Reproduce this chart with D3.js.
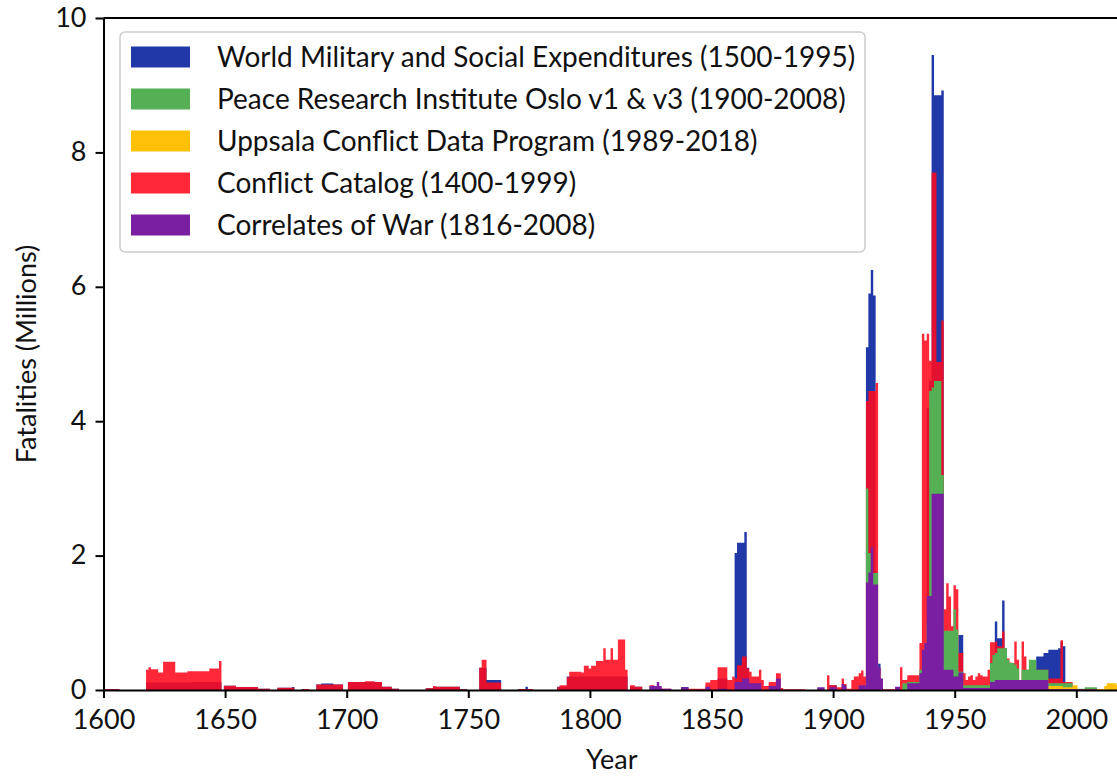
<!DOCTYPE html>
<html>
<head>
<meta charset="utf-8">
<script src="https://cdn.jsdelivr.net/npm/d3@7"></script>
<style>
  body { margin: 0; background: #fff; }
  text { font-family: Lato, "Open Sans", sans-serif; fill: #111; }
</style>
</head>
<body>
<svg id="chart" width="1117" height="776"></svg>
<script>
// [firstYear, lastYear, fatalities in millions]
const wmse = [
  [1601,1606,0.01],[1618,1636,0.11],[1637,1648,0.12],
  [1650,1654,0.065],[1655,1663,0.045],[1664,1668,0.02],[1672,1677,0.035],[1678,1678,0.045],
  [1682,1684,0.015],[1688,1689,0.08],[1690,1694,0.095],[1695,1698,0.08],
  [1701,1714,0.12],[1715,1718,0.05],[1719,1721,0.02],[1733,1735,0.025],[1736,1746,0.05],[1747,1749,0.01],
  [1755,1757,0.33],[1758,1763,0.15],[1771,1773,0.015],[1774,1774,0.05],[1775,1776,0.015],
  [1787,1790,0.05],[1791,1815,0.2],[1817,1821,0.05],[1838,1840,0.045],[1853,1856,0.17],
  [1860,1860,2.04],[1861,1863,2.19],[1864,1864,2.35],[1865,1865,0.33],[1899,1901,0.07],
  [1914,1914,5.1],[1915,1915,5.9],[1916,1916,6.25],[1917,1917,5.87],[1919,1919,0.39],
  [1939,1939,4.2],[1940,1940,4.6],[1941,1941,9.45],[1942,1944,8.85],[1945,1945,8.92],
  [1952,1953,0.82],[1967,1967,1.02],[1968,1969,0.77],[1970,1970,1.33],
  [1984,1986,0.5],[1987,1988,0.55],[1989,1992,0.6],[1993,1993,0.62],[1994,1994,0.72],[1995,1995,0.65]
];

const prio = [
  [1914,1914,3.0],[1915,1915,2.04],[1916,1918,1.74],
  [1929,1930,0.1],[1931,1935,0.12],[1936,1937,0.3],[1938,1938,0.5],[1939,1939,1.0],
  [1940,1940,4.45],[1941,1941,4.5],[1942,1944,4.6],[1945,1945,3.2],
  [1946,1949,0.88],[1950,1950,1.2],[1951,1951,0.9],[1952,1953,0.27],[1954,1964,0.07],
  [1965,1965,0.4],[1966,1966,0.52],[1967,1967,0.55],[1968,1971,0.62],[1972,1972,0.45],
  [1973,1974,0.4],[1975,1975,0.38],[1976,1976,0.32],[1977,1977,0.05],[1978,1980,0.3],
  [1981,1983,0.45],[1984,1988,0.3],[1989,1998,0.1],[1999,2003,0.02],[2004,2008,0.04]
];

const ucdp = [
  [1989,1994,0.06],[1995,1998,0.04],[1999,2000,0.07],[2001,2011,0.015],
  [2012,2012,0.06],[2013,2016,0.1],[2017,2018,0.07]
];

const cc = [
  [1601,1606,0.01],
  [1618,1618,0.30],[1619,1619,0.34],[1620,1622,0.31],[1623,1624,0.26],[1625,1629,0.42],
  [1630,1634,0.26],[1635,1643,0.28],[1644,1647,0.32],[1648,1648,0.43],
  [1650,1654,0.065],[1655,1663,0.045],[1664,1668,0.02],[1672,1678,0.035],[1682,1684,0.015],[1688,1698,0.08],
  [1701,1707,0.12],[1708,1711,0.13],[1712,1714,0.12],[1715,1718,0.05],[1719,1721,0.02],
  [1733,1735,0.025],[1736,1736,0.06],[1737,1746,0.05],[1747,1749,0.01],
  [1755,1755,0.33],[1756,1757,0.45],[1758,1763,0.11],[1771,1776,0.015],
  [1787,1787,0.04],[1788,1790,0.07],[1791,1791,0.19],[1792,1796,0.27],[1797,1797,0.26],
  [1798,1799,0.36],[1800,1800,0.32],[1801,1802,0.36],[1803,1805,0.43],[1806,1806,0.62],
  [1807,1808,0.45],[1809,1809,0.62],[1810,1811,0.45],[1812,1814,0.75],[1815,1815,0.3],
  [1817,1818,0.07],[1819,1821,0.05],[1825,1826,0.07],[1827,1829,0.04],[1830,1833,0.02],
  [1838,1840,0.03],[1841,1847,0.02],[1848,1849,0.11],[1850,1852,0.15],[1853,1856,0.34],
  [1857,1858,0.15],[1859,1859,0.2],[1860,1860,0.17],[1861,1862,0.37],[1863,1864,0.5],
  [1865,1865,0.32],[1866,1866,0.27],[1867,1869,0.2],[1870,1870,0.3],[1871,1871,0.15],
  [1872,1873,0.06],[1874,1876,0.12],[1877,1878,0.25],[1879,1879,0.03],[1880,1888,0.01],
  [1894,1896,0.02],[1898,1898,0.22],[1899,1901,0.07],[1902,1903,0.04],[1904,1904,0.17],
  [1905,1905,0.09],[1906,1907,0.02],[1908,1908,0.15],[1909,1910,0.2],[1911,1911,0.25],
  [1912,1912,0.29],[1913,1913,0.2],
  [1914,1914,4.3],[1915,1917,4.45],[1918,1918,4.57],[1919,1919,0.33],[1920,1920,0.15],
  [1921,1925,0.01],[1926,1927,0.04],[1928,1928,0.34],[1929,1930,0.15],[1931,1935,0.22],[1936,1936,0.7],
  [1937,1937,5.3],[1938,1938,5.2],[1939,1939,5.3],[1940,1940,4.9],[1941,1942,7.7],
  [1943,1944,4.88],[1945,1945,5.5],
  [1946,1946,1.2],[1947,1947,1.59],[1948,1948,1.39],[1949,1949,0.95],[1950,1950,1.56],
  [1951,1951,1.5],[1952,1953,0.55],
  [1954,1954,0.25],[1955,1955,0.15],[1956,1956,0.2],[1957,1957,0.22],[1958,1958,0.15],
  [1959,1959,0.2],[1960,1960,0.25],[1961,1961,0.22],[1962,1963,0.2],[1964,1964,0.3],
  [1965,1966,0.71],[1967,1967,0.72],[1968,1969,0.65],[1970,1970,0.87],[1971,1971,0.62],
  [1972,1972,0.47],[1973,1973,0.41],[1974,1974,0.4],[1975,1975,0.72],[1976,1976,0.45],
  [1977,1977,0.1],[1978,1978,0.72],[1979,1979,0.5],[1980,1988,0.3],[1989,1993,0.17],
  [1994,1994,0.74],[1995,1998,0.12],[1999,1999,0.05]
];

const cow = [
  [1825,1827,0.06],[1828,1828,0.12],[1829,1829,0.06],[1830,1833,0.02],[1838,1840,0.04],
  [1848,1849,0.05],[1853,1856,0.02],[1860,1862,0.12],[1863,1865,0.17],[1866,1870,0.1],
  [1874,1876,0.06],[1877,1878,0.17],[1894,1896,0.04],[1899,1901,0.04],[1904,1904,0.09],
  [1905,1905,0.07],[1911,1913,0.07],
  [1914,1914,1.6],[1915,1915,1.75],[1916,1916,2.12],[1917,1918,1.57],[1919,1919,0.33],
  [1920,1920,0.17],[1926,1927,0.05],[1931,1935,0.1],[1936,1936,0.25],[1937,1937,0.6],
  [1938,1938,0.7],[1939,1940,1.4],[1941,1945,2.92],
  [1946,1949,0.3],[1950,1951,0.2],[1952,1953,0.26],[1954,1964,0.03],[1965,1966,0.12],
  [1967,1988,0.15],[1989,2008,0.01]
];

const names = {
  wmse: "World Military and Social Expenditures (1500-1995)",
  prio: "Peace Research Institute Oslo v1 & v3 (1900-2008)",
  ucdp: "Uppsala Conflict Data Program (1989-2018)",
  cc:   "Conflict Catalog (1400-1999)",
  cow:  "Correlates of War (1816-2008)"
};

const yTicks = [0, 2, 4, 6, 8, 10];
const xTicks = [1600, 1650, 1700, 1750, 1800, 1850, 1900, 1950, 2000];

// drawn in this order, red sits over blue with a little transparency
const layers = [
  {key: "wmse", data: wmse, color: "#2038a8", opacity: 1},
  {key: "cc",   data: cc,   color: "#ff0a1e", opacity: 0.88},
  {key: "prio", data: prio, color: "#55b055", opacity: 1},
  {key: "ucdp", data: ucdp, color: "#ffc107", opacity: 1},
  {key: "cow",  data: cow,  color: "#7b1fa2", opacity: 1}
];
const legendKeys = ["wmse", "prio", "ucdp", "cc", "cow"];

const svg = d3.select("#chart");
const margin = {left: 103.5, top: 18, bottom: 690};
const fontSize = 27;

const x = d3.scaleLinear().domain([1600, 2018]).range([margin.left, margin.left + 418 * 2.432]);
const y = d3.scaleLinear().domain([0, 10]).range([margin.bottom, margin.top]);

const plot = svg.append("g");

layers.forEach(l => {
  const p = d3.path();
  l.data.forEach(([a, b, v]) => {
    const x0 = x(a - 0.5), x1 = x(b + 0.5);
    p.rect(x0, y(v), x1 - x0, y(0) - y(v));
  });
  plot.append("path")
    .attr("d", p.toString())
    .attr("fill", l.color)
    .attr("fill-opacity", l.opacity);
});

// Axes
const xAxis = svg.append("g")
  .attr("transform", `translate(0,${margin.bottom})`)
  .call(d3.axisBottom(x).tickValues(xTicks).tickSize(8).tickSizeOuter(0).tickPadding(12).tickFormat(d3.format("d")));

const yAxis = svg.append("g")
  .attr("transform", `translate(${margin.left},0)`)
  .call(d3.axisLeft(y).tickValues(yTicks).tickSize(8).tickSizeOuter(0).tickPadding(9));

[xAxis, yAxis].forEach(a => {
  a.select(".domain").attr("stroke", "#000").attr("stroke-width", 2);
  a.selectAll(".tick line").attr("stroke", "#000").attr("stroke-width", 2);
  a.selectAll(".tick text").attr("font-size", fontSize).attr("fill", "#111")
    .style("font-family", "Lato, 'Open Sans', sans-serif");
});
yAxis.selectAll(".tick text").attr("dy", "0.3em");

svg.append("line")
  .attr("x1", margin.left).attr("x2", x(2018))
  .attr("y1", margin.top).attr("y2", margin.top)
  .attr("stroke", "#000").attr("stroke-width", 2);

// Axis labels
svg.append("text")
  .attr("x", (margin.left + x(2018)) / 2)
  .attr("y", 769)
  .attr("text-anchor", "middle")
  .attr("font-size", fontSize)
  .text("Year");

svg.append("text")
  .attr("transform", `translate(36,${(margin.top + margin.bottom) / 2}) rotate(-90)`)
  .attr("text-anchor", "middle")
  .attr("font-size", fontSize)
  .text("Fatalities (Millions)");

// Legend
const legend = svg.append("g");
legend.append("rect")
  .attr("x", 120).attr("y", 32)
  .attr("width", 745).attr("height", 220)
  .attr("rx", 5)
  .attr("fill", "#fff").attr("fill-opacity", 0.8)
  .attr("stroke", "#cccccc").attr("stroke-width", 1.5);

legendKeys.forEach((k, i) => {
  const l = layers.find(d => d.key === k);
  const cy = 57 + i * 42;
  legend.append("rect")
    .attr("x", 131).attr("y", cy - 10.5)
    .attr("width", 59).attr("height", 21)
    .attr("fill", l.color).attr("fill-opacity", l.opacity);
  legend.append("text")
    .attr("x", 217).attr("y", cy + 10)
    .attr("font-size", 28)
    .text(names[k]);
});
</script>
</body>
</html>
